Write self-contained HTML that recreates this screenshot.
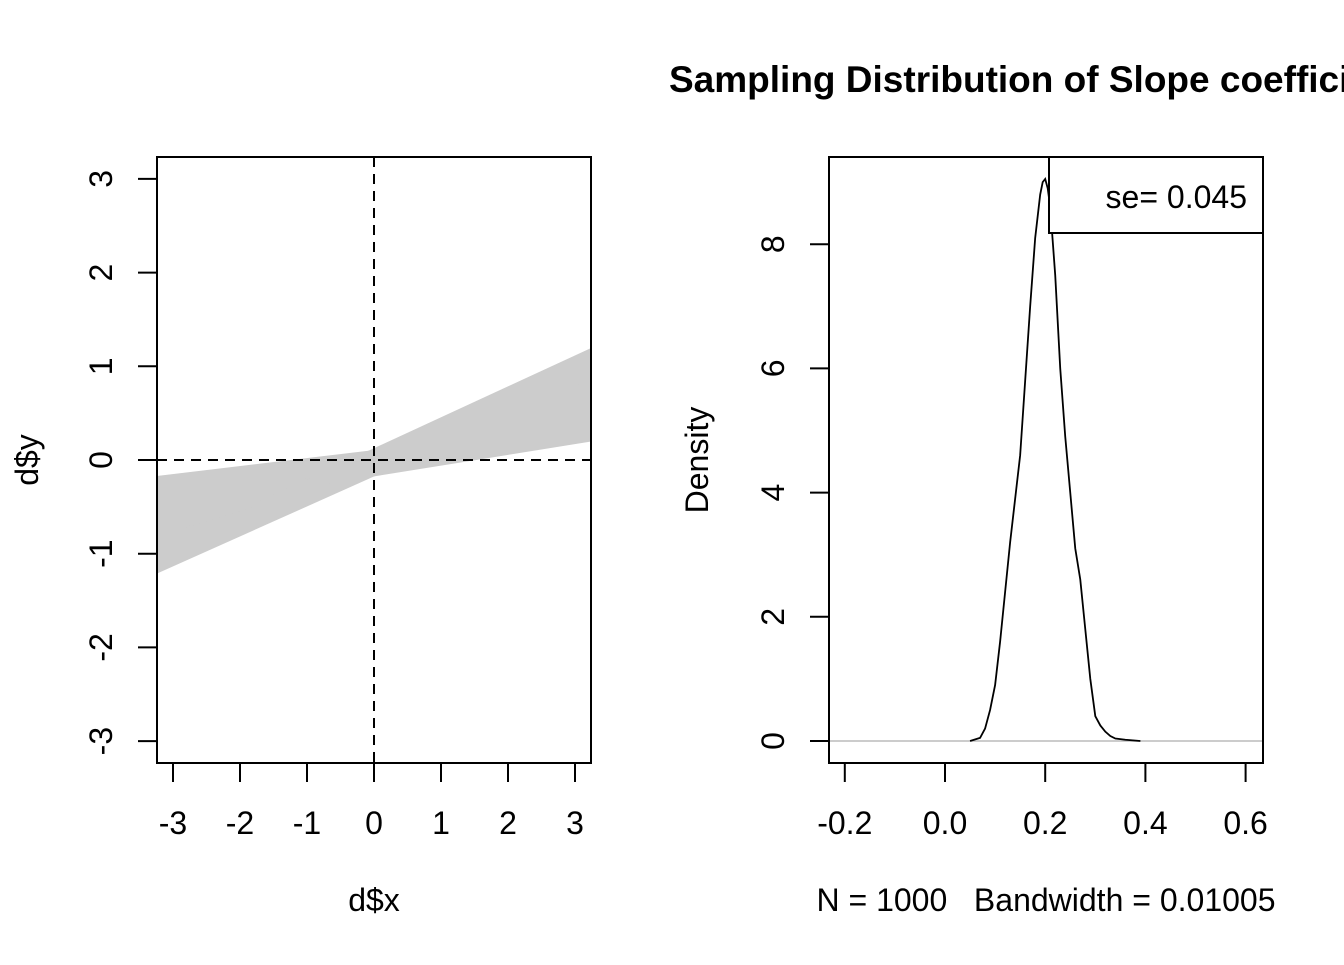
<!DOCTYPE html>
<html><head><meta charset="utf-8"><style>
body{margin:0;background:#fff}
svg text{font-family:"Liberation Sans",Arial,sans-serif;fill:#000}
</style></head><body>
<svg id="chart" width="1344" height="960" xmlns="http://www.w3.org/2000/svg">
<g id="left"></g>
<g id="right"></g>
<text x="669" y="92" font-size="37" font-weight="bold">Sampling Distribution of Slope coefficients</text>
</svg>
<script>
// Left panel data: regression lines (intercept, slope)
const lineIntercepts = [0.12, 0.10, -0.17, -0.17, 0.0, -0.05, 0.05, -0.1];
const lineSlopes = [0.33, 0.085, 0.32, 0.115, 0.2, 0.15, 0.25, 0.22];
const leftXTicks = [-3,-2,-1,0,1,2,3];
const leftYTicks = [-3,-2,-1,0,1,2,3];
// Right panel data: density curve
const densX = [0.05,0.07,0.08,0.09,0.1,0.11,0.12,0.13,0.14,0.15,0.16,0.17,0.18,0.19,0.195,0.2,0.205,0.21,0.22,0.23,0.24,0.25,0.26,0.27,0.28,0.29,0.3,0.31,0.32,0.33,0.34,0.36,0.39];
const densY = [0,0.05,0.2,0.5,0.9,1.6,2.4,3.2,3.9,4.6,5.8,7.0,8.1,8.8,9.0,9.05,8.9,8.6,7.5,6.0,4.9,4.0,3.1,2.6,1.8,1.0,0.4,0.25,0.15,0.08,0.04,0.02,0];
const rightXTicks = [-0.2,0.0,0.2,0.4,0.6];
const rightYTicks = [0,2,4,6,8];
const seLabel = "se= 0.045";

const NS="http://www.w3.org/2000/svg";
const FS=32;
function mk(parent,tag,attrs,text){const e=document.createElementNS(NS,tag);for(const k in attrs)e.setAttribute(k,attrs[k]);if(text!==undefined)e.textContent=text;parent.appendChild(e);return e;}

// Left
const L=document.getElementById('left');
const lx=v=>374+v*67, ly=v=>460-v*93.7;
const xs=[];for(let i=0;i<=64;i++)xs.push(-3.24+6.48*i/64);
const upperEnv=[],lowerEnv=[];
xs.forEach(x=>{const vals=lineIntercepts.map((a,i)=>a+lineSlopes[i]*x);upperEnv.push(Math.max(...vals));lowerEnv.push(Math.min(...vals));});
const pts=xs.map((x,i)=>lx(x)+','+ly(upperEnv[i])).concat(xs.map((x,i)=>lx(x)+','+ly(lowerEnv[i])).reverse());
const band=mk(L,'polygon',{points:pts.join(' '),fill:'#cccccc'});


lineIntercepts.forEach((a,i)=>{const b=lineSlopes[i];
 const ln=mk(L,'line',{x1:lx(-3.24),y1:ly(a+b*-3.24),x2:lx(3.24),y2:ly(a+b*3.24),stroke:'#cccccc','stroke-width':1});
 
 });
const h=mk(L,'line',{x1:157,y1:ly(0),x2:591,y2:ly(0),stroke:'#000','stroke-width':2,'stroke-dasharray':'10,7'});

const v=mk(L,'line',{x1:lx(0),y1:157,x2:lx(0),y2:763,stroke:'#000','stroke-width':2,'stroke-dasharray':'10,7'});

const lb=mk(L,'rect',{x:157,y:157,width:434,height:606,fill:'none',stroke:'#000','stroke-width':2});

leftXTicks.forEach(t=>{mk(L,'line',{x1:lx(t),y1:763,x2:lx(t),y2:782,stroke:'#000','stroke-width':2});
 const tx=mk(L,'text',{x:lx(t),y:834,'font-size':FS,'text-anchor':'middle'},String(t));
 });
leftYTicks.forEach(t=>{mk(L,'line',{x1:138,y1:ly(t),x2:157,y2:ly(t),stroke:'#000','stroke-width':2});
 const tx=mk(L,'text',{x:0,y:0,'font-size':FS,'text-anchor':'middle',transform:`translate(112,${ly(t)}) rotate(-90)`},String(t));
 });
const xl=mk(L,'text',{x:374,y:911,'font-size':FS,'text-anchor':'middle'},'d$x');

const yl=mk(L,'text',{x:0,y:0,'font-size':FS,'text-anchor':'middle',transform:'translate(38,460) rotate(-90)'},'d$y');


// Right
const R=document.getElementById('right');
const rx=v=>945+v*501, ry=v=>741-v*62.1;
const base=mk(R,'line',{x1:829,y1:741,x2:1263,y2:741,stroke:'#bbbbbb','stroke-width':1.5});

const dp=mk(R,'polyline',{points:densX.map((x,i)=>rx(x)+','+ry(densY[i])).join(' '),fill:'none',stroke:'#000','stroke-width':1.8});

const rb=mk(R,'rect',{x:829,y:157,width:434,height:606,fill:'none',stroke:'#000','stroke-width':2});

const lg=mk(R,'rect',{x:1049,y:157,width:214,height:76,fill:'#fff',stroke:'#000','stroke-width':2});

const lt=mk(R,'text',{x:1247,y:208,'font-size':FS,'text-anchor':'end'},seLabel);

mk(R,'line',{x1:rx(-0.2),y1:782,x2:rx(0.6),y2:782,stroke:'#000','stroke-width':2,opacity:0});
rightXTicks.forEach(t=>{mk(R,'line',{x1:rx(t),y1:763,x2:rx(t),y2:782,stroke:'#000','stroke-width':2});
 const tx=mk(R,'text',{x:rx(t),y:834,'font-size':FS,'text-anchor':'middle'},t.toFixed(1));
 });
rightYTicks.forEach(t=>{mk(R,'line',{x1:810,y1:ry(t),x2:829,y2:ry(t),stroke:'#000','stroke-width':2});
 const tx=mk(R,'text',{x:0,y:0,'font-size':FS,'text-anchor':'middle',transform:`translate(784,${ry(t)}) rotate(-90)`},String(t));
 });
const rxl=mk(R,'text',{x:1046,y:911,'font-size':FS,'text-anchor':'middle'},'N = 1000   Bandwidth = 0.01005');
rxl.style.whiteSpace='pre';

const ryl=mk(R,'text',{x:0,y:0,'font-size':FS,'text-anchor':'middle',transform:'translate(708,460) rotate(-90)'},'Density');

</script>
</body></html>
